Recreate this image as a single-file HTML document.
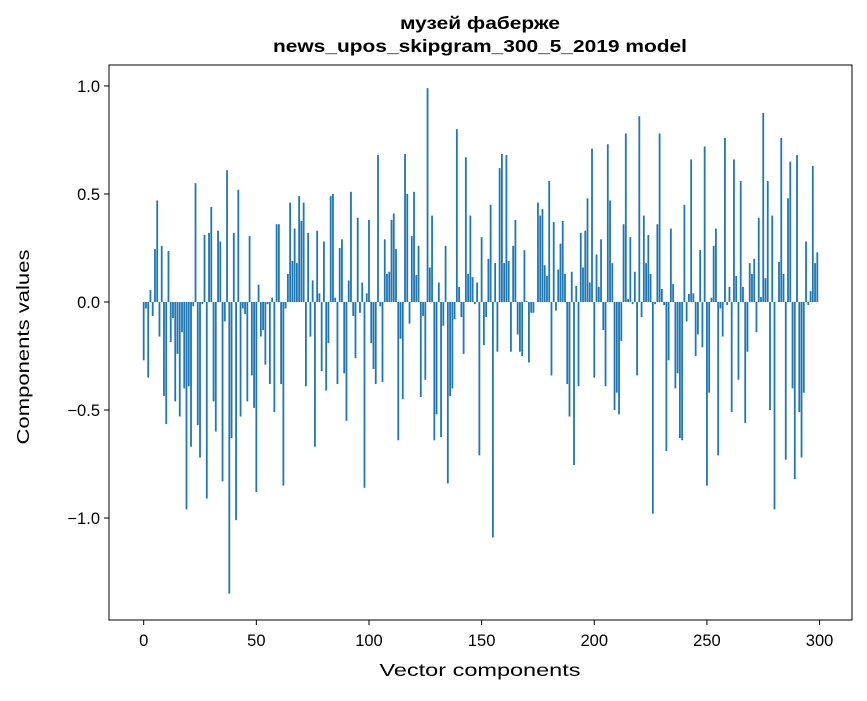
<!DOCTYPE html>
<html><head><meta charset="utf-8"><style>
body{margin:0;background:#fff;}
svg text{font-family:"Liberation Sans","DejaVu Sans",sans-serif;}
</style></head><body>
<svg id="chart" width="867" height="696" xmlns="http://www.w3.org/2000/svg">
<rect width="867" height="696" fill="#fff"/>
<text x="480" y="29" text-anchor="middle" font-size="17.5" font-weight="bold" textLength="160" lengthAdjust="spacingAndGlyphs">музей фаберже</text>
<text x="480" y="52" text-anchor="middle" font-size="17.5" font-weight="bold" textLength="414" lengthAdjust="spacingAndGlyphs">news_upos_skipgram_300_5_2019 model</text>
<g id="bars"></g>
<g id="xticks"></g>
<g id="yticks"></g>
<rect x="109" y="65" width="743" height="555" fill="none" stroke="#000" stroke-width="1"/>
<text x="480" y="676" text-anchor="middle" font-size="17.5" textLength="201" lengthAdjust="spacingAndGlyphs">Vector components</text>
<text x="29" y="347" text-anchor="middle" font-size="17.5" textLength="195" lengthAdjust="spacingAndGlyphs" transform="rotate(-90 29 347)">Components values</text>
</svg>
<script>
const values = [
-0.27,-0.03,-0.35,0.055,-0.065,0.245,0.47,-0.16,0.26,-0.435,
-0.565,0.236,-0.185,-0.074,-0.46,-0.24,-0.53,-0.14,-0.4,-0.96,
-0.39,-0.67,-0.02,0.55,-0.57,-0.72,-0.01,0.31,-0.91,0.32,
0.44,-0.46,-0.6,0.33,0.28,-0.83,-0.09,0.61,-1.35,-0.63,
0.32,-1.01,0.52,-0.53,-0.03,-0.055,-0.46,0.305,-0.34,-0.49,
-0.88,0.08,-0.16,-0.13,-0.29,-0.01,-0.38,0.02,-0.51,0.36,
0.36,-0.38,-0.85,-0.03,0.13,0.46,0.19,0.34,0.18,0.49,
0.375,0.46,-0.39,0.32,-0.16,0.1,-0.67,0.33,0.04,-0.32,
0.28,-0.41,-0.19,0.49,0.5,0.02,-0.38,0.25,0.29,-0.33,
-0.55,0.1,0.51,-0.065,-0.26,0.39,-0.05,0.09,-0.86,0.04,
0.38,-0.19,-0.31,-0.38,0.68,-0.02,-0.37,0.29,0.13,0.14,
0.38,0.41,0.245,-0.64,-0.17,-0.45,0.685,0.5,-0.1,0.305,
0.51,0.125,0.26,-0.44,-0.065,-0.36,0.99,0.16,0.4,-0.64,
-0.52,0.09,-0.625,-0.11,0.26,-0.84,-0.435,-0.4,-0.08,0.8,
0.07,-0.07,-0.24,0.67,0.13,0.4,0.115,-0.01,0.09,-0.71,
0.3,-0.2,-0.07,0.2,0.45,-1.09,0.18,-0.23,0.62,0.685,
0.18,0.68,0.19,-0.23,0.26,0.38,-0.15,-0.23,-0.25,0.24,
0.005,-0.28,-0.05,-0.05,0.0,0.46,0.4,0.43,0.17,0.12,
0.56,-0.34,0.37,-0.04,0.15,0.27,0.375,0.13,-0.38,-0.53,
0.14,-0.755,0.074,-0.39,0.32,0.16,0.33,0.48,0.09,0.71,
-0.35,0.22,0.07,0.29,-0.13,-0.39,0.73,0.47,0.18,-0.5,
-0.42,-0.52,-0.18,0.36,0.78,0.014,0.3,-0.01,0.14,-0.34,
0.86,-0.07,0.4,0.18,0.31,0.13,-0.98,-0.01,0.36,0.78,
0.06,-0.014,-0.69,-0.27,0.34,0.083,-0.4,-0.33,-0.63,-0.64,
0.45,-0.09,0.037,0.66,0.04,-0.25,-0.15,0.24,-0.21,0.72,
-0.85,-0.42,0.02,0.26,0.34,-0.71,-0.03,-0.16,0.76,-0.014,
0.07,-0.51,0.66,0.12,-0.36,0.56,0.07,-0.56,-0.23,0.18,
0.13,0.2,-0.14,0.39,0.023,0.875,0.11,0.56,-0.5,0.4,
-0.96,0.0,0.185,0.76,0.13,-0.73,0.48,0.65,-0.4,-0.82,
0.68,-0.51,-0.72,-0.42,0.28,-0.014,0.05,0.63,0.18,0.23
];
const xTicks = [0,50,100,150,200,250,300];
const yTicks = [-1.0,-0.5,0.0,0.5,1.0];
const yTickLabels = ["\u22121.0","\u22120.5","0.0","0.5","1.0"];

const L=109,R=852,T=65,B=620;
const xMin=-15.4,xMax=314.4,yMin=-1.472,yMax=1.097;
function sx(v){return L+(v-xMin)/(xMax-xMin)*(R-L);}
function sy(v){return T+(yMax-v)/(yMax-yMin)*(B-T);}
const NS="http://www.w3.org/2000/svg";
const bars=document.getElementById('bars');
values.forEach((v,i)=>{
  const r=document.createElementNS(NS,'rect');
  const x0=sx(i-0.4),x1=sx(i+0.4);
  const y0=sy(Math.max(v,0)),y1=sy(Math.min(v,0));
  r.setAttribute('x',x0);r.setAttribute('width',x1-x0);
  r.setAttribute('y',y0);r.setAttribute('height',Math.max(y1-y0,0));
  r.setAttribute('fill','#1f77b4');
  
  
  bars.appendChild(r);
});
const xg=document.getElementById('xticks');
xTicks.forEach(t=>{
  const x=sx(t);
  const l=document.createElementNS(NS,'line');
  l.setAttribute('x1',x);l.setAttribute('x2',x);l.setAttribute('y1',B);l.setAttribute('y2',B+5);
  l.setAttribute('stroke','#000');
  
  
  xg.appendChild(l);
  const tx=document.createElementNS(NS,'text');
  tx.setAttribute('x',x);tx.setAttribute('y',B+26);tx.setAttribute('text-anchor','middle');tx.setAttribute('font-size','16.5');
  tx.textContent=t;
  
  
  xg.appendChild(tx);
});
const yg=document.getElementById('yticks');
yTicks.forEach((t,i)=>{
  const y=sy(t);
  const l=document.createElementNS(NS,'line');
  l.setAttribute('x1',L-5);l.setAttribute('x2',L);l.setAttribute('y1',y);l.setAttribute('y2',y);
  l.setAttribute('stroke','#000');
  
  
  yg.appendChild(l);
  const tx=document.createElementNS(NS,'text');
  tx.setAttribute('x',L-9);tx.setAttribute('y',y+6);tx.setAttribute('text-anchor','end');tx.setAttribute('font-size','16.5');
  tx.textContent=yTickLabels[i];
  
  
  yg.appendChild(tx);
});
</script>
</body></html>
